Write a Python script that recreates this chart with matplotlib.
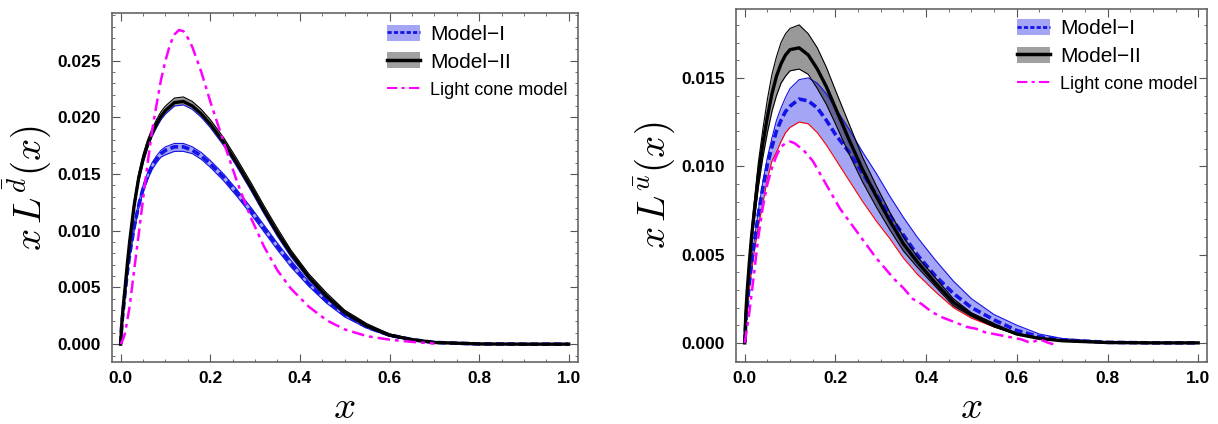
import matplotlib
matplotlib.use('Agg')
import matplotlib.pyplot as plt
import matplotlib.ticker as mticker
from matplotlib.patches import Patch
from matplotlib.lines import Line2D

plt.rcParams['font.family'] = ['Liberation Sans', 'DejaVu Sans']
plt.rcParams['mathtext.fontset'] = 'cm'

# common x grid for the model curves
x_grid = [0, 0.0025, 0.005, 0.01, 0.015, 0.02, 0.03, 0.04, 0.05, 0.06, 0.07, 0.08, 0.09, 0.10, 0.12, 0.14,
          0.16, 0.18, 0.20, 0.23, 0.26, 0.29, 0.32, 0.35, 0.38, 0.42, 0.46, 0.50, 0.55, 0.60, 0.65, 0.70,
          0.80, 0.90, 1.0]

########## left panel: dbar
d_m2 = [0, 0.0018, 0.0030, 0.0050, 0.0071, 0.0090, 0.0122, 0.0146, 0.0163, 0.0176, 0.0186, 0.0194, 0.0201,
        0.0206, 0.0213, 0.0214, 0.0210, 0.0203, 0.0194, 0.0178, 0.0159, 0.0139, 0.0118, 0.0098, 0.0080,
        0.0059, 0.0042, 0.0028, 0.0016, 0.0008, 0.0004, 0.00015, 0.00002, 0, 0]
d_m2_hi = [0, 0.0019, 0.0031, 0.0052, 0.0073, 0.0093, 0.0126, 0.0150, 0.0167, 0.0180, 0.0190, 0.0198, 0.0205,
           0.0210, 0.0217, 0.0218, 0.0214, 0.0207, 0.0198, 0.0182, 0.0163, 0.0143, 0.0122, 0.0102, 0.0083,
           0.0062, 0.0045, 0.0030, 0.0018, 0.0009, 0.00045, 0.00018, 0.00003, 0, 0]
d_m2_lo = [0, 0.0017, 0.0029, 0.0048, 0.0069, 0.0087, 0.0119, 0.0143, 0.0160, 0.0173, 0.0183, 0.0191, 0.0198,
           0.0203, 0.0210, 0.0211, 0.0207, 0.0200, 0.0191, 0.0175, 0.0156, 0.0136, 0.0115, 0.0095, 0.0077,
           0.0057, 0.0040, 0.0026, 0.0015, 0.0007, 0.00035, 0.00013, 0.00002, 0, 0]
d_m1 = [0, 0.0017, 0.0027, 0.0046, 0.0064, 0.0079, 0.0103, 0.0122, 0.0137, 0.0148, 0.0157, 0.0163, 0.0168,
        0.0171, 0.0174, 0.0174, 0.0171, 0.0166, 0.0159, 0.0147, 0.0133, 0.0118, 0.0102, 0.0086, 0.0071,
        0.0053, 0.0038, 0.0026, 0.0015, 0.0008, 0.0004, 0.00015, 0.00002, 0, 0]
d_m1_hi = [0, 0.0018, 0.0028, 0.0048, 0.0066, 0.0082, 0.0106, 0.0125, 0.0140, 0.0151, 0.0160, 0.0166, 0.0171,
           0.0174, 0.0177, 0.0177, 0.0174, 0.0169, 0.0162, 0.0150, 0.0136, 0.0121, 0.0105, 0.0089, 0.0074,
           0.0055, 0.0040, 0.0028, 0.0016, 0.0009, 0.00045, 0.00018, 0.00003, 0, 0]
d_m1_lo = [0, 0.0016, 0.0026, 0.0044, 0.0062, 0.0076, 0.0100, 0.0119, 0.0134, 0.0145, 0.0154, 0.0160, 0.0165,
           0.0167, 0.0170, 0.0170, 0.0168, 0.0163, 0.0156, 0.0144, 0.0130, 0.0115, 0.0099, 0.0083, 0.0068,
           0.0051, 0.0036, 0.0024, 0.0014, 0.0007, 0.00035, 0.00013, 0.00002, 0, 0]
d_lc_x = [0, 0.005, 0.01, 0.02, 0.03, 0.04, 0.05, 0.06, 0.07, 0.08, 0.09, 0.10, 0.11, 0.12, 0.13, 0.14, 0.15,
          0.16, 0.18, 0.20, 0.23, 0.26, 0.29, 0.32, 0.35, 0.38, 0.42, 0.46, 0.50, 0.55, 0.60, 0.65, 0.70]
d_lc = [0, 0.0004, 0.0010, 0.0033, 0.0065, 0.0096, 0.0128, 0.0159, 0.0188, 0.0211, 0.0233, 0.0250, 0.0264,
        0.0273, 0.0277, 0.0276, 0.0270, 0.0262, 0.0240, 0.0214, 0.0178, 0.0143, 0.0112, 0.0086, 0.0065,
        0.0049, 0.0033, 0.0021, 0.0013, 0.0007, 0.0004, 0.0002, 0.00005]

########## right panel: ubar
u_m2 = [0, 0.0017, 0.0028, 0.0045, 0.0060, 0.0072, 0.0095, 0.0113, 0.0128, 0.0141, 0.0151, 0.0158, 0.0163,
        0.0166, 0.0167, 0.0163, 0.0155, 0.0145, 0.0133, 0.0115, 0.0098, 0.0083, 0.0069, 0.0056, 0.0046,
        0.0034, 0.0023, 0.0016, 0.0010, 0.0005, 0.00025, 0.00012, 0.00002, 0, 0]
u_m2_hi = [0, 0.0018, 0.0030, 0.0048, 0.0064, 0.0077, 0.0102, 0.0121, 0.0138, 0.0152, 0.0162, 0.0170, 0.0175,
           0.0178, 0.0180, 0.0175, 0.0167, 0.0156, 0.0143, 0.0124, 0.0105, 0.0089, 0.0074, 0.0060, 0.0049,
           0.0037, 0.0025, 0.0017, 0.0011, 0.0005, 0.0003, 0.00013, 0.00002, 0, 0]
u_m2_lo = [0, 0.0016, 0.0026, 0.0042, 0.0056, 0.0067, 0.0088, 0.0105, 0.0119, 0.0131, 0.0140, 0.0147, 0.0151,
           0.0154, 0.0155, 0.0152, 0.0144, 0.0135, 0.0124, 0.0107, 0.0091, 0.0077, 0.0064, 0.0052, 0.0043,
           0.0032, 0.0021, 0.0015, 0.0009, 0.00047, 0.00023, 0.00011, 0.00002, 0, 0]
u_m1 = [0, 0.0012, 0.0020, 0.0033, 0.0045, 0.0055, 0.0073, 0.0088, 0.0101, 0.0111, 0.0120, 0.0126, 0.0131,
        0.0134, 0.0138, 0.0137, 0.0133, 0.0126, 0.0118, 0.0108, 0.0096, 0.0084, 0.0072, 0.0061, 0.0050,
        0.0038, 0.0028, 0.0020, 0.0013, 0.0007, 0.00035, 0.00017, 0.00003, 0, 0]
u_m1_hi = [0, 0.0012, 0.0020, 0.0033, 0.0046, 0.0056, 0.0075, 0.0091, 0.0105, 0.0116, 0.0126, 0.0133, 0.0139,
           0.0144, 0.0149, 0.0150, 0.0147, 0.0141, 0.0133, 0.0121, 0.0108, 0.0096, 0.0083, 0.0071, 0.0060,
           0.0047, 0.0035, 0.0025, 0.0016, 0.0010, 0.0005, 0.00025, 0.00005, 0.00001, 0]
u_m1_lo = [0, 0.0011, 0.0018, 0.0030, 0.0041, 0.0050, 0.0066, 0.0079, 0.0093, 0.0103, 0.0108, 0.0114, 0.0119,
           0.0122, 0.0125, 0.0124, 0.0119, 0.0112, 0.0104, 0.0092, 0.0080, 0.0069, 0.0059, 0.0048, 0.0039,
           0.0029, 0.0020, 0.0014, 0.0009, 0.0005, 0.00022, 0.0001, 0.00001, 0, 0]
u_lc_x = [0, 0.005, 0.01, 0.02, 0.03, 0.04, 0.05, 0.06, 0.07, 0.08, 0.09, 0.10, 0.11, 0.12, 0.13, 0.15, 0.17,
          0.19, 0.21, 0.23, 0.25, 0.27, 0.29, 0.31, 0.33, 0.35, 0.37, 0.39, 0.41, 0.43, 0.45, 0.47, 0.49,
          0.51, 0.53, 0.55, 0.57, 0.59, 0.61, 0.63, 0.65, 0.67, 0.69]
u_lc = [0, 0.0008, 0.0017, 0.0038, 0.0060, 0.0077, 0.0090, 0.0099, 0.0106, 0.0111, 0.0113, 0.0114, 0.0113,
        0.0111, 0.0109, 0.0103, 0.0094, 0.0085, 0.0076, 0.0069, 0.0062, 0.0055, 0.0048, 0.0042, 0.0036,
        0.0031, 0.0025, 0.0022, 0.0018, 0.0015, 0.0013, 0.0011, 0.0009, 0.0008, 0.0006, 0.0005, 0.0004,
        0.0003, 0.0002, 0.0000, 0.0002, 0.0000, -0.00015]

BLUE = '#1414e6'
MAG = '#ff00ff'
lc_dash = (0, (5, 2, 1.5, 2))
m1_dash = (0, (2.2, 1.0))

fig = plt.figure(figsize=(12.18, 4.24), dpi=100)
ax1 = fig.add_axes([0.0917, 0.1455, 0.3826, 0.8238])
ax2 = fig.add_axes([0.604, 0.1455, 0.3872, 0.8333])


def style_axes(ax, ylim, ylab, xlab_y):
    ax.set_xlim(-0.02, 1.02)
    ax.set_ylim(*ylim)
    ax.xaxis.set_major_locator(mticker.MultipleLocator(0.2))
    ax.xaxis.set_minor_locator(mticker.MultipleLocator(0.05))
    ax.yaxis.set_major_locator(mticker.MultipleLocator(0.005))
    ax.yaxis.set_minor_locator(mticker.MultipleLocator(0.001))
    ax.xaxis.set_major_formatter(mticker.FormatStrFormatter('%.1f'))
    ax.yaxis.set_major_formatter(mticker.FormatStrFormatter('%.3f'))
    ax.tick_params(which='both', direction='in', top=True, right=True, color='#555555')
    ax.tick_params(which='major', length=5.5, width=0.8, labelsize=12.5)
    ax.tick_params(axis='y', which='major', pad=8)
    ax.tick_params(axis='x', which='major', pad=6)
    ax.tick_params(which='minor', length=2.5, width=0.6)
    for lab in ax.get_xticklabels() + ax.get_yticklabels():
        lab.set_fontweight('bold')
    for sp in ax.spines.values():
        sp.set_color('#666666')
        sp.set_linewidth(1.2)
    ax.set_xlabel(r'$x$', fontsize=28)
    ax.set_ylabel(ylab, fontsize=28)
    ax.xaxis.set_label_coords(0.5, xlab_y)
    ax.yaxis.set_label_coords(-0.125, 0.5)


def add_legend(ax, anchor):
    h1 = (Patch(facecolor=BLUE, alpha=0.38, edgecolor='none'), Line2D([], [], color=BLUE, lw=2, linestyle=(0, (1.5, 0.8))))
    h2 = (Patch(facecolor='#888888', alpha=0.8, edgecolor='none'), Line2D([], [], color='black', lw=2.5))
    h3 = Line2D([], [], color=MAG, lw=1.5, linestyle=lc_dash)
    leg = ax.legend([h1, h2, h3], ['Model\u2212I', 'Model\u2212II', 'Light cone model'],
                    loc='upper left', bbox_to_anchor=anchor, frameon=False, fontsize=15,
                    handlelength=1.6, handleheight=0.8, handletextpad=0.5, labelspacing=0.4,
                    borderaxespad=0.0)
    leg.get_texts()[2].set_fontsize(13)
    return leg


# left
ax1.fill_between(x_grid, d_m1_lo, d_m1_hi, color=BLUE, alpha=0.38, lw=0)
ax1.plot(x_grid, d_m1_hi, color=BLUE, lw=0.8)
ax1.plot(x_grid, d_m1_lo, color=BLUE, lw=0.8)
ax1.plot(x_grid, d_m1, color=BLUE, lw=2.6, linestyle=m1_dash)
ax1.fill_between(x_grid, d_m2_lo, d_m2_hi, color='black', alpha=0.4, lw=0)
ax1.plot(x_grid, d_m2_hi, color='black', lw=0.8)
ax1.plot(x_grid, d_m2_lo, color=BLUE, lw=0.8)
ax1.plot(x_grid, d_m2, color='black', lw=2.4)
ax1.plot(d_lc_x, d_lc, color=MAG, lw=1.8, linestyle=lc_dash)
style_axes(ax1, (-0.0016, 0.0292), r'$x\,L^{\bar{d}}(x)$', -0.078)
add_legend(ax1, (0.572, 0.99))

# right
ax2.fill_between(x_grid, u_m1_lo, u_m1_hi, color=BLUE, alpha=0.38, lw=0)
ax2.plot(x_grid, u_m1_hi, color=BLUE, lw=0.8)
ax2.plot(x_grid, u_m1_lo, color='red', lw=0.8)
ax2.plot(x_grid, u_m1, color=BLUE, lw=2.6, linestyle=m1_dash)
ax2.fill_between(x_grid, u_m2_lo, u_m2_hi, color='black', alpha=0.4, lw=0)
ax2.plot(x_grid, u_m2_hi, color='black', lw=0.8)
ax2.plot(x_grid, u_m2_lo, color='black', lw=0.8)
ax2.plot(x_grid, u_m2, color='black', lw=2.4)
ax2.plot(u_lc_x, u_lc, color=MAG, lw=1.8, linestyle=lc_dash)
style_axes(ax2, (-0.0011, 0.0189), r'$x\,L^{\bar{u}}(x)$', -0.077)
add_legend(ax2, (0.578, 0.995))

fig.savefig('out.png', dpi=100)
